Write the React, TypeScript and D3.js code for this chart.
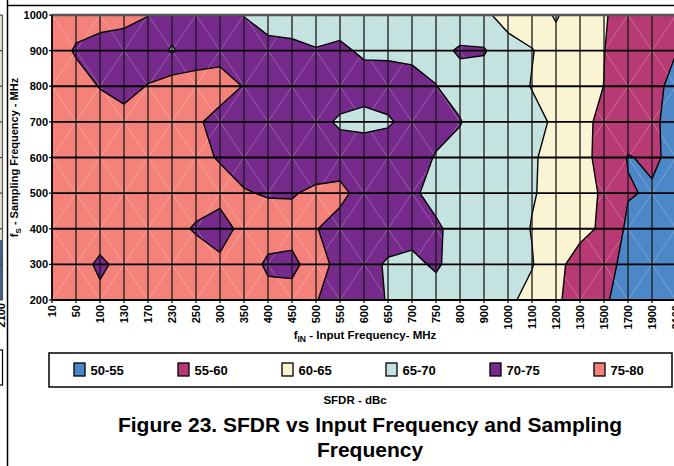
import React from "react";
import * as d3 from "d3";

// Input frequency categories (MHz) along the x axis
const finLabels = ["10","50","100","130","170","230","250","300","350","400","450","500","550","600","650","700","750","800","900","1000","1100","1200","1300","1500","1700","1900","2100"];
// Sampling frequencies (MHz), top row first
const fsValues = [1000, 900, 800, 700, 600, 500, 400, 300, 200];

// SFDR (dBc) read per sampling-frequency row, one value per input frequency
const sfdrFs1000 = [78,78,77.5,76.5,75.1,73,72,72,69.9,68,68,68,68,67.5,67.5,67,67,66.5,66,63,62.5,65.5,62,60.5,57.5,56.5,55.6];
const sfdrFs900 = [79,74.2,72.5,72.5,72.5,69.5,72.5,72.5,72,71.5,71,70.2,70.8,69.3,69.2,69,68.5,70.6,70.4,67,65.2,63,61.5,60.1,57.5,56.5,55.1];
const sfdrFs800 = [79,78,74.7,73.5,75.2,77.5,77,78,74.7,72.5,72.5,72.5,72.5,72,72,71.5,70.1,68,67.5,67,64.8,63.5,62,59.95,57,56,54];
const sfdrFs700 = [79,79,78.5,76.5,77,76.5,76,72.6,72.5,72.5,72.5,71.5,69.3,68.5,69.5,71.5,71.5,70.3,66.7,66,66.5,64.2,62,58.3,57,55.5,54];
const sfdrFs600 = [79,79,78.5,78,77.5,77,76,74.7,73,72.5,72.5,72.5,72.5,73.3,72.5,72,69.7,68,67.5,67,65.5,63.5,62,58,54.8,55.6,54];
const sfdrFs500 = [79.5,79.5,79,78.5,78,77.5,77,76.5,75.33,74.6,74.7,75.8,76.3,73,72,70.5,69,68.5,67.5,66.5,65.3,63.8,62,59.3,55.3,54.6,53.5];
const sfdrFs400 = [79.5,79.5,79,78.5,78,76.5,74.5,73,76.5,77.5,76.5,75.2,73,72.5,72,71.5,70.5,68.8,67.5,67,64.8,63,61,59.4,54,53,52.5];
const sfdrFs300 = [79.5,78.5,73.5,77.5,78.5,78.5,77.5,76,78,74,74,77,73.5,71.5,69.5,69,70.6,68,67,66.5,65.3,61,58.5,56.5,53.7,53,52.5];
const sfdrFs200 = [79.5,79.5,77,78,78.5,78.5,78,77.5,77,77,76.5,75.2,73,72,69.7,68.5,68,67.5,67,66,63.3,61,57,55.3,54,53,52.5];

const thresholds = [55, 60, 65, 70, 75];
const bandLabels = ["50-55", "55-60", "60-65", "65-70", "70-75", "75-80"];
const bandColors = ["#4C87C7", "#B83A74", "#FAF4D3", "#C4E3E0", "#762A8C", "#F4827A"];

const FONT = "'Liberation Sans', Arial, Helvetica, sans-serif";

export default function App() {
  const W = 674, H = 466;
  const left = 52, right = 676, top = 15, bottom = 300;

  const rows = [sfdrFs1000, sfdrFs900, sfdrFs800, sfdrFs700, sfdrFs600, sfdrFs500, sfdrFs400, sfdrFs300, sfdrFs200];
  const n = finLabels.length;
  const m = rows.length;
  const values = rows.flat();

  const x = d3.scalePoint<string>().domain(finLabels).range([left, right]);
  const y = d3.scaleLinear().domain([1000, 200]).range([top, bottom]);
  const gx = d3.scaleLinear().domain([0, n - 1]).range([left, right]);
  const gy = d3.scaleLinear().domain([0, m - 1]).range([top, bottom]);

  const contours = d3.contours().size([n, m]).thresholds(thresholds)(values);
  const proj = d3.geoTransform({
    point(px: number, py: number) {
      // @ts-ignore
      this.stream.point(gx(px - 0.5), gy(py - 0.5));
    },
  });
  const path = d3.geoPath(proj);

  // faint triangulation mesh
  const mesh: JSX.Element[] = [];
  for (let j = 0; j < m - 1; j++) {
    for (let i = 0; i < n - 1; i++) {
      const even = (i + j) % 2 === 0;
      mesh.push(
        <line key={`m${i}-${j}`}
          x1={even ? gx(i) : gx(i + 1)} y1={gy(j)}
          x2={even ? gx(i + 1) : gx(i)} y2={gy(j + 1)}
          stroke="#fff" strokeOpacity={0.35} strokeWidth={0.7} />
      );
    }
  }

  const legendX0 = 74, legendStep = 104;

  return (
    <svg width={W} height={H} style={{ position: "absolute", left: 0, top: 0, background: "#fff" }} fontFamily={FONT}>
      <defs>
        <clipPath id="plotClip">
          <rect x={left} y={top} width={right - left} height={bottom - top} />
        </clipPath>
      </defs>
      <rect x={0} y={0} width={W} height={H} fill="#fff" />

      {/* sliver of the neighbouring figure */}
      <g>
        <rect x={-10} y={15} width={12.5} height={225} fill="#e4e0d2" />
        <rect x={-10} y={240} width={12.5} height={60} fill="#3f5f8c" />
        {fsValues.map((fs) => (
          <line key={`sl${fs}`} x1={0} x2={2.5} y1={y(fs)} y2={y(fs)} stroke="#444" strokeWidth={1.2} />
        ))}
        <line x1={2.5} x2={2.5} y1={15} y2={300} stroke="#555" strokeWidth={1.2} />
        <text transform="translate(5,303) rotate(-90)" textAnchor="end" fontSize={11} fontWeight="bold">2100</text>
        <rect x={-20} y={350} width={22.5} height={35} fill="#fff" stroke="#000" strokeWidth={1.2} />
      </g>

      {/* frame */}
      <line x1={7.5} x2={7.5} y1={0} y2={H} stroke="#000" strokeWidth={1.5} />
      <line x1={7} x2={W} y1={5.5} y2={5.5} stroke="#000" strokeWidth={1.5} />

      {/* contour fills */}
      <g clipPath="url(#plotClip)">
        <rect x={left} y={top} width={right - left} height={bottom - top} fill={bandColors[0]} />
        {contours.map((c, k) => (
          <path key={`c${k}`} d={path(c as any) || ""} fill={bandColors[k + 1]} fillRule="evenodd" stroke="none" />
        ))}
        {mesh}
        {contours.map((c, k) => (
          <path key={`s${k}`} d={path(c as any) || ""} fill="none" stroke="#000" strokeWidth={1.4} strokeLinejoin="round" />
        ))}
      </g>

      {/* grid */}
      {finLabels.map((f) => (
        <line key={`vx${f}`} x1={x(f)} x2={x(f)} y1={top} y2={bottom} stroke="#1a1a1a" strokeWidth={1.3} />
      ))}
      {fsValues.map((fs) => (
        <line key={`hy${fs}`} x1={left} x2={right} y1={y(fs)} y2={y(fs)} stroke="#000" strokeWidth={1.8} />
      ))}
      <line x1={left} x2={right} y1={top} y2={top} stroke="#555" strokeWidth={2.5} />
      <line x1={left} x2={right} y1={bottom} y2={bottom} stroke="#000" strokeWidth={2} />
      <line x1={left} x2={left} y1={top} y2={bottom} stroke="#000" strokeWidth={1.6} />

      {/* y axis */}
      {fsValues.map((fs) => (
        <g key={`yt${fs}`}>
          <line x1={left - 3} x2={left} y1={y(fs)} y2={y(fs)} stroke="#000" strokeWidth={1.2} />
          <text x={left - 4} y={y(fs) + 4} textAnchor="end" fontSize={11} fontWeight="bold">{fs}</text>
        </g>
      ))}
      <text transform={`translate(17.5,${(top + bottom) / 2}) rotate(-90)`} textAnchor="middle" fontSize={11} fontWeight="bold">
        f<tspan dy={3} fontSize={8}>S</tspan><tspan dy={-3}> - Sampling Frequency - MHz</tspan>
      </text>

      {/* x axis */}
      {finLabels.map((f) => (
        <g key={`xt${f}`}>
          <line x1={x(f)} x2={x(f)} y1={bottom} y2={bottom + 3} stroke="#000" strokeWidth={1.2} />
          <text transform={`translate(${(x(f) as number) + 4},${bottom + 5}) rotate(-90)`} textAnchor="end" fontSize={11} fontWeight="bold">{f}</text>
        </g>
      ))}
      <text x={365} y={339} textAnchor="middle" fontSize={11.5} fontWeight="bold">
        f<tspan dy={3} fontSize={8.5}>IN</tspan><tspan dy={-3}> - Input Frequency- MHz</tspan>
      </text>

      {/* legend */}
      <rect x={49} y={353} width={623} height={34} fill="#fff" stroke="#000" strokeWidth={1.5} />
      {bandLabels.map((lab, k) => (
        <g key={`lg${lab}`}>
          <rect x={legendX0 + legendStep * k} y={363} width={11} height={13} fill={bandColors[k]} stroke="#000" strokeWidth={1.3} />
          <text x={legendX0 + legendStep * k + 16.5} y={374.5} fontSize={13} fontWeight="bold">{lab}</text>
        </g>
      ))}
      <text x={355} y={404} textAnchor="middle" fontSize={11.5} fontWeight="bold">SFDR - dBc</text>

      {/* caption */}
      <text x={370} y={432} textAnchor="middle" fontSize={21} fontWeight="bold">Figure 23. SFDR vs Input Frequency and Sampling</text>
      <text x={370} y={457} textAnchor="middle" fontSize={21} fontWeight="bold">Frequency</text>
    </svg>
  );
}
